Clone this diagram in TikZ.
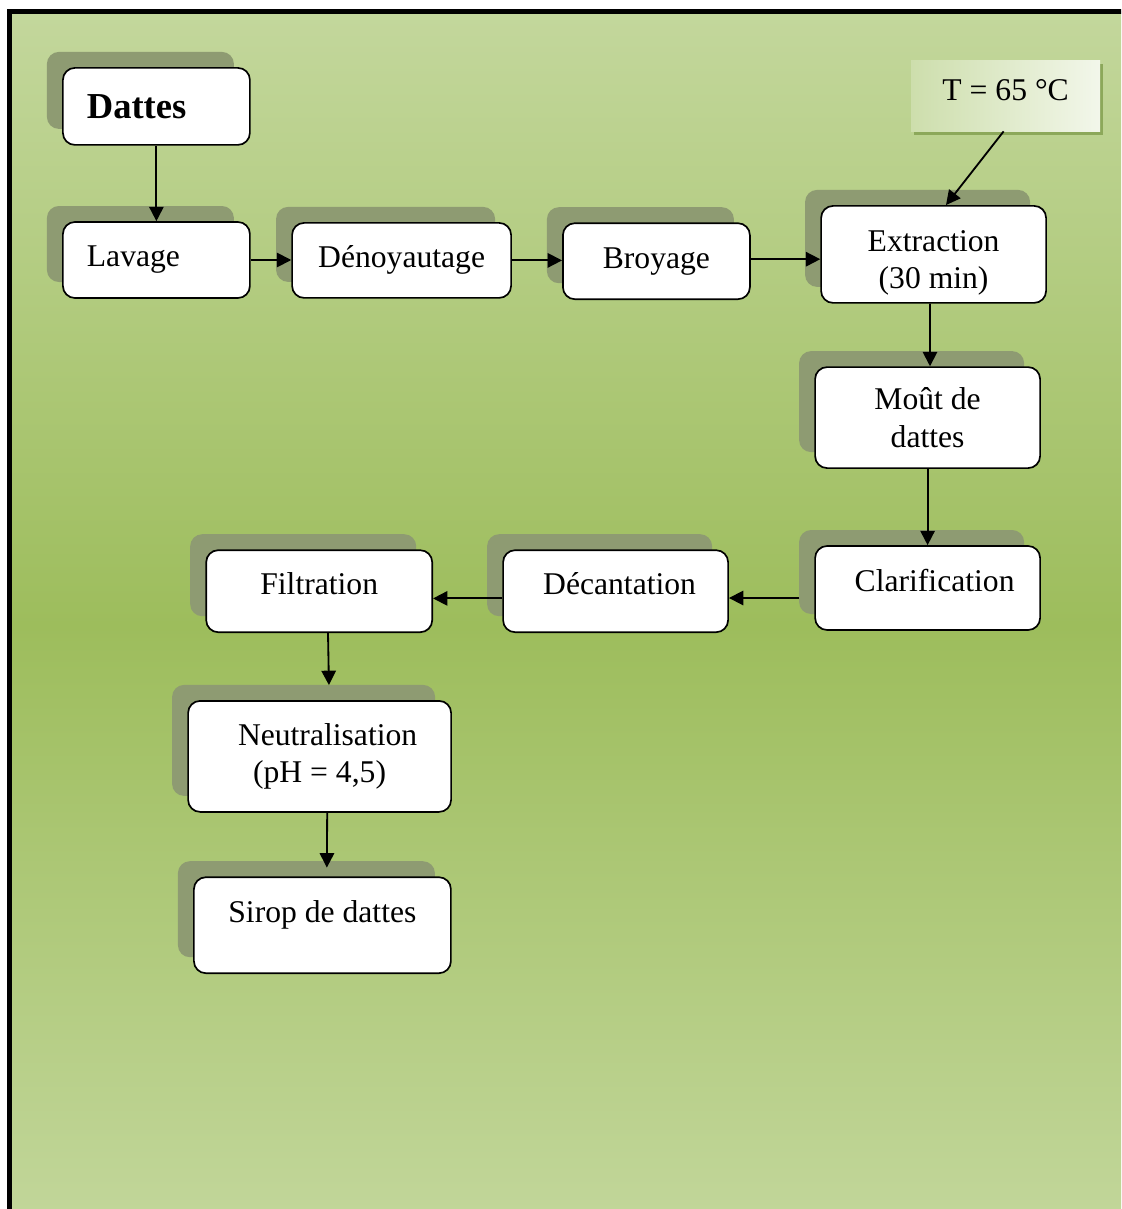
\documentclass[tikz,border=0pt]{standalone}
\usepackage{fontspec}
\setmainfont{Liberation Serif}
\usepackage{tikz}
\usetikzlibrary{arrows.meta,shadows,calc,positioning}
\usepackage{xcolor}
\definecolor{bgpale}{RGB}{195,215,156}
\definecolor{bgdeep}{RGB}{157,189,92}
\definecolor{shadowgreen}{RGB}{142,155,114}
\definecolor{temppale}{RGB}{205,222,172}
\definecolor{tempedge}{RGB}{140,168,90}

\begin{document}
\begin{tikzpicture}[scale=1.0,
  stepbox/.style={draw,line width=1.2pt,rounded corners=0.3cm,fill=white,
    minimum width=5.625cm,align=center,inner sep=0pt,
    font=\fontsize{22.5}{26.5}\selectfont,
    general shadow={fill=shadowgreen,shadow xshift=-0.4cm,shadow yshift=0.4cm}},
  tempbox/.style={rectangle,minimum width=4.725cm,minimum height=1.775cm,
    left color=temppale,right color=white!75!temppale,
    font=\fontsize{22.5}{26.5}\selectfont,
    general shadow={fill=tempedge,shadow xshift=2pt,shadow yshift=-2.5pt}},
  flow/.style={line width=1.3pt,-{Triangle[length=0.36cm,width=0.36cm]}}]
 \useasboundingbox (0,0) rectangle (28.025,-30.225);
 \clip (0,0) rectangle (28.025,-30.225);
 % background and frame
 \shade[top color=bgpale,bottom color=bgpale,middle color=bgdeep]
   (0.24,-0.29) rectangle (29,-31);
 \draw[line width=3.5pt] (0.24,-31) -- (0.24,-0.29) -- (29,-0.29);
 % process steps
 \node[stepbox,minimum width=4.675cm,minimum height=1.925cm,
   text width=3.475cm,align=left,font=\fontsize{26}{30}\selectfont\bfseries]
   (dattes) at (3.91,-2.66) {Dattes};
 \node[stepbox,minimum width=4.675cm,minimum height=1.9cm,
   text width=3.475cm,align=left] (lavage) at (3.91,-6.50) {Lavage};
 \node[stepbox,minimum width=5.475cm,minimum height=1.875cm]
   (denoy) at (10.04,-6.51) {Dénoyautage};
 \node[stepbox,minimum width=4.675cm,minimum height=1.9cm]
   (broyage) at (16.41,-6.53) {Broyage};
 \node[stepbox,minimum height=2.425cm] (extraction) at (23.34,-6.36)
   {\rule{0pt}{0.95cm}Extraction\\(30 min)};
 \node[tempbox] (temp) at (25.14,-2.39) {\raisebox{0.27cm}{T = 65 °C}};
 \node[stepbox,minimum height=2.525cm] (mout) at (23.19,-10.44)
   {Moût de\\dattes};
 \node[stepbox,minimum height=2.1cm] (clarif) at (23.19,-14.70)
   {\raisebox{0.37cm}{\hspace{0.35cm}Clarification}};
 \node[stepbox,minimum height=2.05cm] (decant) at (15.39,-14.78)
   {\raisebox{0.4cm}{\hspace{0.2cm}Décantation}};
 \node[stepbox,minimum width=5.65cm,minimum height=2.05cm]
   (filtration) at (7.98,-14.78) {\raisebox{0.4cm}{Filtration}};
 \node[stepbox,minimum width=6.575cm,minimum height=2.775cm]
   (neutral) at (7.99,-18.91) {\hspace{0.4cm}Neutralisation\\(pH = 4,5)};
 \node[stepbox,minimum width=6.425cm,minimum height=2.4cm]
   (sirop) at (8.06,-23.13) {\raisebox{0.7cm}{Sirop de dattes}};
 % connectors
 \draw[flow] (dattes) -- (lavage);
 \draw[flow] (lavage) -- (lavage -| denoy.west);
 \draw[flow] (denoy) -- (denoy -| broyage.west);
 \draw[flow] ([yshift=0.05cm]broyage.east) -- ([yshift=0.05cm]broyage.east -| extraction.west);
 \draw[flow] ([xshift=-0.05cm]temp.south) -- ([xshift=0.31cm]extraction.north);
 \draw[flow] ([xshift=-0.09cm]extraction.south) -- ([xshift=0.06cm]mout.north);
 \draw[flow] (mout) -- (clarif);
 \draw[flow,shorten <=0.375cm] ([yshift=-0.25cm]clarif.west)
   -- ([yshift=-0.25cm]clarif.west -| decant.east);
 \draw[flow] ([yshift=-0.18cm]decant.west) -- ([yshift=-0.18cm]decant.west -| filtration.east);
 \draw[flow,shorten >=0.375cm] ([xshift=0.22cm]filtration.south)
   -- ([xshift=0.24cm]neutral.north);
 \draw[flow,shorten >=0.22cm] ([xshift=0.19cm]neutral.south)
   -- ([xshift=0.11cm]sirop.north);
\end{tikzpicture}
\end{document}
